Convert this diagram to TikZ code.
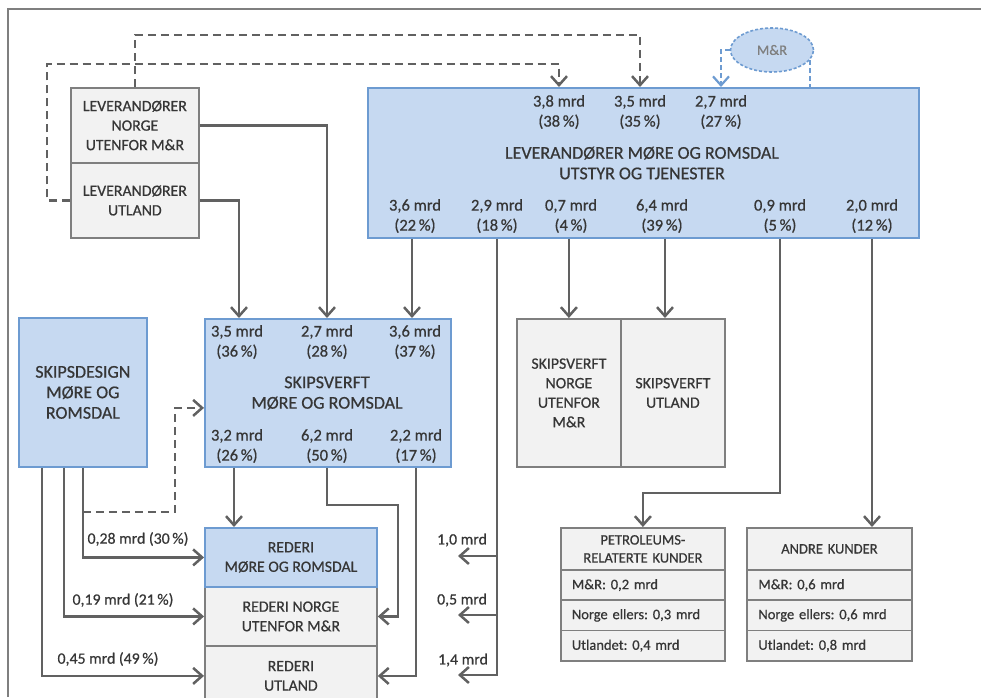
\documentclass[tikz,border=0pt]{standalone}
\usepackage{fontspec}
\setmainfont{Carlito}[FakeBold=0.6]
\usetikzlibrary{arrows.meta,shapes.geometric}
\frenchspacing

\definecolor{boxblue}{HTML}{C6D9F1}
\definecolor{edgeblue}{HTML}{6D9BD1}
\definecolor{boxgray}{HTML}{F2F2F2}
\definecolor{edgegray}{HTML}{7F7F7F}
\definecolor{linegray}{HTML}{616161}
\definecolor{txtgray}{HTML}{363636}

\tikzset{
  bluebox/.style={draw=edgeblue, fill=boxblue, line width=1.8pt, inner sep=0pt, align=center, anchor=north west},
  graybox/.style={draw=edgegray, fill=boxgray, line width=1.8pt, inner sep=0pt, align=center, anchor=north west},
  rowbox/.style={graybox, text width=142pt, inner xsep=11pt, minimum width=164pt, minimum height=30.3pt, align=left, font=\smallfont},
  amount/.style={align=center, inner sep=0pt, font=\amountfont},
  title/.style={align=center, inner sep=0pt, font=\titlefont},
  flow/.style={draw=linegray, line width=2.5pt, -{Straight Barb[length=9pt,width=16pt]}},
  dflow/.style={flow, dash pattern=on 8pt off 5pt},
  mrflow/.style={draw=edgeblue, line width=2.2pt, dash pattern=on 5pt off 3pt, -{Straight Barb[length=9pt,width=16pt]}},
}
\newcommand{\titlefont}{\fontsize{18}{20.5}\selectfont}
\newcommand{\amountfont}{\fontsize{16.5}{20}\selectfont}
\newcommand{\boxfont}{\fontsize{15.8}{19.5}\selectfont}
\newcommand{\smallfont}{\fontsize{14.5}{18}\selectfont}

\begin{document}
\begin{tikzpicture}[x=1pt, y=-1pt, text=txtgray, font=\boxfont]
  \useasboundingbox (0,0) rectangle (981,697);
  \clip (0,0) rectangle (981,697);
  \draw[color=edgegray, line width=1.2pt] (8,697) -- (8,9) -- (981,9);

  % leverandorer utenfor M&R
  \node[graybox, minimum width=128pt, minimum height=75pt] (levno) at (70,87) {LEVERANDØRER\\NORGE\\UTENFOR M\&R};
  \node[graybox, minimum width=128pt, minimum height=75pt] (levut) at (70,162) {LEVERANDØRER\\UTLAND};

  % leverandorer M&R
  \node[bluebox, minimum width=551pt, minimum height=150pt] (lev) at (367,87) {};
  \node[title] (levtitle) at (642,163) {LEVERANDØRER MØRE OG ROMSDAL\\UTSTYR OG TJENESTER};
  \node[amount] (lin1) at (559,112) {3,8 mrd\\(38\,\%)};
  \node[amount] (lin2) at (640,112) {3,5 mrd\\(35\,\%)};
  \node[amount] (lin3) at (721,112) {2,7 mrd\\(27\,\%)};
  \node[amount] (lut1) at (415,216) {3,6 mrd\\(22\,\%)};
  \node[amount] (lut2) at (497,216) {2,9 mrd\\(18\,\%)};
  \node[amount] (lut3) at (571,216) {0,7 mrd\\(4\,\%)};
  \node[amount] (lut4) at (662,216) {6,4 mrd\\(39\,\%)};
  \node[amount] (lut5) at (780,216) {0,9 mrd\\(5\,\%)};
  \node[amount] (lut6) at (872,216) {2,0 mrd\\(12\,\%)};

  \node[ellipse, draw=edgeblue, fill=boxblue, line width=1.6pt, dash pattern=on 3pt off 2pt,
        minimum width=83pt, minimum height=44pt, inner sep=0pt, text=edgegray, font=\smallfont] (mr) at (772,50) {M\&R};

  % skipsdesign og skipsverft
  \node[bluebox, minimum width=128pt, minimum height=149pt, font=\titlefont] (design) at (18,317) {SKIPSDESIGN\\MØRE OG\\ROMSDAL};
  \node[bluebox, minimum width=246pt, minimum height=148pt] (skv) at (204,318) {};
  \node[title] (skvtitle) at (327,393) {SKIPSVERFT\\MØRE OG ROMSDAL};
  \node[amount] (sin1) at (237,342) {3,5 mrd\\(36\,\%)};
  \node[amount] (sin2) at (327,342) {2,7 mrd\\(28\,\%)};
  \node[amount] (sin3) at (415,342) {3,6 mrd\\(37\,\%)};
  \node[amount] (sout1) at (237,446) {3,2 mrd\\(26\,\%)};
  \node[amount] (sout2) at (327,446) {6,2 mrd\\(50\,\%)};
  \node[amount] (sout3) at (416,446) {2,2 mrd\\(17\,\%)};

  \node[graybox, minimum width=104pt, minimum height=148pt] (svn) at (516,318) {SKIPSVERFT\\NORGE\\UTENFOR\\M\&R};
  \node[graybox, minimum width=104pt, minimum height=148pt] (svu) at (620,318) {SKIPSVERFT\\UTLAND};

  % rederier
  \node[graybox, minimum width=172pt, minimum height=59pt] (rno) at (204,586) {REDERI NORGE\\UTENFOR M\&R};
  \node[graybox, minimum width=172pt, minimum height=60pt] (rut) at (204,645) {REDERI\\UTLAND};
  \node[bluebox, minimum width=172pt, minimum height=59pt] (rmr) at (204,527) {REDERI\\MØRE OG ROMSDAL};

  % kunder
  \node[graybox, text width=142pt, minimum width=164pt, minimum height=42pt, font=\smallfont] (pet) at (560,527) {PETROLEUMS-\\RELATERTE KUNDER};
  \node[rowbox] (petmr) at (560,569) {M\&R: 0,2 mrd};
  \node[rowbox] (petno) at (560,599.3) {Norge ellers: 0,3 mrd};
  \node[rowbox] (petut) at (560,629.6) {Utlandet: 0,4 mrd};
  \node[graybox, text width=143pt, minimum width=165pt, minimum height=42pt, font=\smallfont] (and) at (746,527) {ANDRE KUNDER};
  \node[rowbox, minimum width=165pt] (andmr) at (746,569) {M\&R: 0,6 mrd};
  \node[rowbox, minimum width=165pt] (andno) at (746,599.3) {Norge ellers: 0,6 mrd};
  \node[rowbox, minimum width=165pt] (andut) at (746,629.6) {Utlandet: 0,8 mrd};

  % labels on the flows
  \node[amount, font=\boxfont] (d1) at (138,539) {0,28 mrd (30\,\%)};
  \node[amount, font=\boxfont] (d2) at (123,600) {0,19 mrd (21\,\%)};
  \node[amount, font=\boxfont] (d3) at (108,659) {0,45 mrd (49\,\%)};
  \node[amount, font=\boxfont] (o1lab) at (462,540) {1,0 mrd};
  \node[amount, font=\boxfont] (o2lab) at (462,600) {0,5 mrd};
  \node[amount, font=\boxfont] (o3lab) at (463,660) {1,4 mrd};

  \coordinate (top1) at (0,35);
  \coordinate (dl) at (47,64);
  \coordinate (dd) at (175,512);
  \coordinate (k1) at (398,505);
  \coordinate (k2) at (0,493);
  \coordinate (o1) at (458,556);
  \coordinate (o2) at (458,615);
  \coordinate (o3) at (458,675);

  % dashed flows
  \draw[dflow] (levno.north) -- (levno.north |- top1) -| (lin2.north |- lev.north);
  \draw[dflow] (levut.west) -| (dl) -| (lin1.north |- lev.north);
  \draw[mrflow] (mr.west) -| (lin3.north |- lev.north);
  \draw[mrflow, -] (mr.-15) -- (mr.-15 |- lev.north);
  \draw[dflow] (design.south |- dd) -- (dd) |- ([yshift=-15pt]skv.west);

  % flows to skipsverft
  \draw[flow] (levno.east) -| (sin2.north |- skv.north);
  \draw[flow] (levut.east) -| ([xshift=2pt]sin1.north |- skv.north);
  \draw[flow] ([xshift=-3pt]lut1.south |- lev.south) -- ([xshift=-3pt]lut1.south |- skv.north);

  % flows from leverandorer M&R
  \draw[flow] (lut2.south |- lev.south) |- (o3);
  \draw[flow] (lut2.south |- o1) -- (o1);
  \draw[flow] (lut2.south |- o2) -- (o2);
  \draw[flow] (svn.north |- lev.south) -- (svn.north);
  \draw[flow] ([xshift=3pt]lut4.south |- lev.south) -- ([xshift=3pt]lut4.south |- svu.north);
  \draw[flow] (lut5.south |- lev.south) |- (k2 -| pet.north) -- (pet.north);
  \draw[flow] (lut6.south |- lev.south) -- (lut6.south |- and.north);

  % flows from skipsdesign
  \draw[flow] (design.south) |- (rmr.west);
  \draw[flow] ([xshift=-19pt]design.south) |- (rno.west);
  \draw[flow] ([xshift=-41pt]design.south) |- (rut.west);

  % flows from skipsverft
  \draw[flow] ([xshift=-3pt]sout1.south |- skv.south) -- ([xshift=-3pt]sout1.south |- rmr.north);
  \draw[flow] (sout2.south |- skv.south) |- (k1) |- (rno.east);
  \draw[flow] (sout3.south |- skv.south) |- (rut.east);
\end{tikzpicture}
\end{document}
